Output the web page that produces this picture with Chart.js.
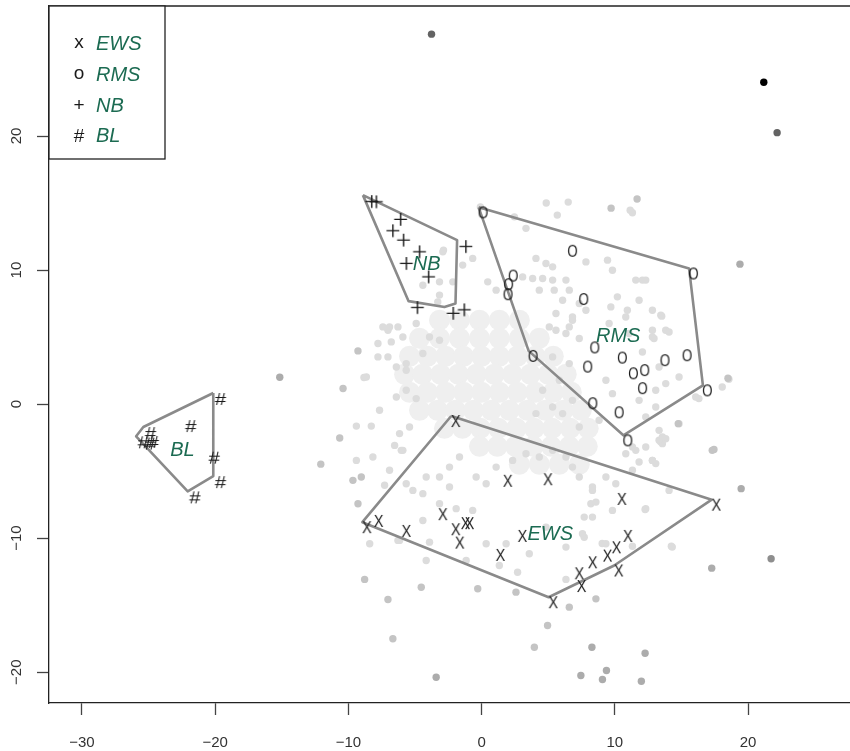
<!DOCTYPE html>
<html>
<head>
<meta charset="utf-8">
<script src="https://cdn.jsdelivr.net/npm/chart.js@4.4.0/dist/chart.umd.min.js"></script>
<style>
	html, body { margin: 0; padding: 0; background: #fff; }
</style>
</head>
<body>
<canvas id="myChart" width="850" height="751"></canvas>
<script>
// groups, in legend order
const groupNames = ['EWS', 'RMS', 'NB', 'BL'];
const legendSymbols = ['x', 'o', '+', '#'];
const plotSymbols = ['X', 'O', '+', '#'];

// samples of each group
const ewsPoints = [[-2.28,-0.89],[-8.95,-8.81],[-8.07,-8.34],[-5.99,-9.09],[-3.25,-7.84],[-2.28,-8.96],[-1.98,-9.96],[-1.55,-8.51],[-1.25,-8.51],[1.62,-5.35],[4.64,-5.23],[1.07,-10.88],[2.72,-9.46],[5.03,-14.41],[6.99,-12.25],[7.16,-13.2],[7.99,-11.43],[9.11,-10.93],[9.78,-10.31],[10.64,-9.46],[9.95,-12.04],[10.19,-6.70],[17.27,-7.13]];
const rmsPoints = [[-0.22,14.68],[6.49,11.81],[2.04,9.96],[1.69,9.32],[1.65,8.57],[7.33,8.21],[3.53,3.97],[8.16,4.60],[10.23,3.84],[7.63,3.17],[11.06,2.67],[11.91,2.91],[13.43,3.65],[15.09,4.02],[11.75,1.56],[16.61,1.40],[15.57,10.12],[8.01,0.44],[9.99,-0.24],[10.64,-2.33]];
const nbPoints = [[-8.91,15.59],[-8.56,15.57],[-6.74,14.26],[-7.32,13.41],[-6.52,12.71],[-5.32,11.84],[-6.31,10.97],[-4.64,9.97],[-1.84,12.23],[-5.48,7.68],[-2.79,7.25],[-1.96,7.51]];
const blPoints = [[-20.14,0.83],[-22.37,-1.19],[-25.39,-1.71],[-25.93,-2.40],[-25.42,-2.50],[-25.18,-2.38],[-20.61,-3.55],[-20.14,-5.37],[-22.06,-6.51]];

// hull outlines
const ewsHull = [[-2.28,-0.89],[17.27,-7.13],[9.95,-12.04],[5.03,-14.41],[-8.95,-8.81],[-2.28,-0.89]];
const rmsHull = [[-0.22,14.68],[15.57,10.12],[16.61,1.40],[10.64,-2.33],[3.53,3.97],[-0.22,14.68]];
const nbHull = [[-8.91,15.59],[-1.84,12.23],[-1.96,7.51],[-2.79,7.25],[-5.48,7.68],[-8.91,15.59]];
const blHull = [[-20.14,0.83],[-25.39,-1.71],[-25.93,-2.40],[-22.06,-6.51],[-20.14,-5.37],[-20.14,0.83]];

// where the group names sit
const labelX = [5.15, 10.25, -4.12, -22.46];
const labelY = [-9.61, 5.18, 10.55, -3.32];

// axis ticks
const xTicks = [-30, -20, -10, 0, 10, 20];
const yTicks = [-20, -10, 0, 10, 20];

// background samples
const cloudCore = [
	[-3.16,6.26],[-1.66,6.26],[-0.16,6.26],[1.33,6.26],[2.83,6.26],
	[-4.66,4.91],[-3.16,4.91],[-1.66,4.91],[-0.16,4.91],[1.33,4.91],[2.83,4.91],[4.33,4.91],
	[-5.41,3.57],[-4.06,3.57],[-2.71,3.57],[-1.36,3.57],[-0.01,3.57],[1.33,3.57],[2.68,3.57],[4.03,3.57],[5.38,3.57],
	[-5.78,2.23],[-4.43,2.23],[-3.08,2.23],[-1.74,2.23],[-0.39,2.23],[0.96,2.23],[2.31,2.23],[3.66,2.23],[5.00,2.23],[6.35,2.23],
	[-5.41,0.88],[-4.06,0.88],[-2.71,0.88],[-1.36,0.88],[-0.01,0.88],[1.33,0.88],[2.68,0.88],[4.03,0.88],[5.38,0.88],[6.73,0.88],
	[-4.66,-0.46],[-3.31,-0.46],[-1.96,-0.46],[-0.61,-0.46],[0.73,-0.46],[2.08,-0.46],[3.43,-0.46],[4.78,-0.46],[6.13,-0.46],[7.48,-0.46],
	[-2.79,-1.81],[-1.44,-1.81],[-0.09,-1.81],[1.26,-1.81],[2.61,-1.81],[3.96,-1.81],[5.30,-1.81],[6.65,-1.81],[8.00,-1.81],
	[-0.16,-3.15],[1.18,-3.15],[2.53,-3.15],[3.88,-3.15],[5.23,-3.15],[6.58,-3.15],[7.93,-3.15],
	[2.83,-4.49],[4.33,-4.49],[5.83,-4.49],[7.33,-4.49]
];
const nearDots = [
	[-8.28,-1.64],[-9.40,-1.64],[-7.66,-0.46],[-8.16,-3.95],[-7.28,-6.06],[-4.16,-11.67],[-8.40,-10.42],[-6.28,-10.17],
	[2.70,-12.54],[1.33,-12.04],[6.33,-13.08],[14.24,-10.60],[12.27,-7.86],[14.07,-6.44],[11.32,-10.60],[9.82,-7.93],
	[7.70,-8.43],[7.70,-9.93],[9.05,-10.40],[8.20,-7.43],[8.58,-7.31],[8.32,-6.44],[13.07,-4.44],[12.82,-4.20],
	[13.82,-2.58],[13.45,-2.83],[11.57,-3.45],[11.82,-4.32],[13.57,-2.95],[13.82,5.51],[13.45,6.63],[12.07,3.89],
	[12.94,4.89],[14.82,2.02],[16.07,0.53],[4.85,15.0],[6.50,15.07],[5.68,14.10],[11.15,14.47],[-0.09,14.70],
	[2.46,13.97],[3.33,13.11],[4.08,10.87],[4.83,10.49],[5.33,10.24],[7.83,10.61],[-2.86,11.49],[-0.67,10.87],
	[-1.42,10.37],[0.46,9.12],[1.09,8.50],[-3.16,9.12],[-3.16,8.13],[3.08,9.49],[3.83,9.37],[4.58,9.37],
	[5.33,9.25],[6.33,9.25],[-7.41,5.76],[-8.65,2.02],[-7.03,5.51],[-6.28,5.76],[-7.78,4.52],[-6.78,4.64],
	[-5.91,5.01],[-7.78,3.52],[-7.03,3.52],[-6.40,2.77],[-5.66,2.52],[-6.40,0.53],[-5.66,1.03],[-4.91,0.41],
	[-6.16,-2.20],[-6.53,-3.08],[-5.91,-3.45],[-5.41,-1.71],[-6.03,-3.45],[-4.16,-5.44],[-5.16,-6.44],[-2.41,-6.19],
	[-3.16,-7.43],[-1.91,-7.80],[-0.67,-7.93],[-4.41,-8.68],[-3.91,-10.30],[-6.16,-10.17],[-1.16,-11.67],[0.34,-10.42],
	[1.84,-10.42],[3.58,-11.17],[4.83,-9.18],[6.33,-10.67],[7.57,-9.67],[8.32,-8.43],[9.33,-10.42],[12.32,-7.80],
	[14.31,-10.67],[-0.41,-5.44],[0.34,-5.94],[1.09,-4.70],[2.33,-4.20],[3.33,-3.70],[4.33,-3.95],[5.33,-3.45],
	[6.33,-3.95],[6.82,-4.70],[7.33,-5.44],[8.32,-6.19],[9.33,-5.44],[10.07,-5.94],[11.32,-4.94],[10.82,-3.70],
	[12.32,-3.20],[13.32,-2.70],[12.82,-4.20],[-3.16,-5.44],[-2.41,-4.70],[-1.66,-3.95],[-4.41,-6.68],[-5.66,-5.94],
	[-6.91,-4.94],[4.33,8.50],[6.08,7.75],[5.58,6.76],[6.82,6.26],[5.08,5.76],[6.33,5.27],[7.33,4.89],
	[9.70,7.25],[10.82,6.50],[9.57,6.01],[11.82,7.75],[12.82,7.00],[11.07,5.27],[12.82,5.51],[13.32,2.77],
	[13.82,1.53],[13.07,1.03],[11.82,0.28],[13.07,-0.22],[12.32,-0.96],[13.32,-1.96],[11.32,-3.20],[9.33,1.78],
	[9.82,0.78],[8.82,-1.21],[7.33,-1.71],[6.08,-0.71],[6.82,0.28],[5.83,1.78],[6.58,3.02],[5.33,3.52],
	[4.58,1.03],[5.33,-0.22],[4.08,-0.71],[18.06,1.28],[18.56,1.85],[11.32,14.27],[13.52,6.56],[14.07,5.38],
	[12.82,5.01],[16.31,0.41],[14.82,-1.46],[13.57,-2.46],[12.07,9.25],[11.57,9.25],[12.32,9.25],[9.82,9.99],
	[9.45,10.74],[10.19,8.00],[10.94,7.00],[-2.91,11.36],[-4.41,8.87],[-3.29,7.62],[-2.16,9.12],[5.45,8.50],
	[6.58,8.50],[7.33,7.50],[7.83,7.00],[6.82,6.50],[6.58,5.76],[5.58,5.51],[-6.91,5.76],[-4.91,6.01],
	[-3.91,5.01],[-4.41,3.77],[-3.16,4.76],[-5.66,3.02],[-9.40,-4.20],[-8.83,1.98]
];
const farDots = [
	[-12.07,-4.48],[-10.65,-2.53],[-10.40,1.16],[-9.28,3.97],[-9.66,-5.69],[-9.03,-5.44],[-8.78,-13.08],[-7.03,-14.58],
	[-6.66,-17.51],[-4.53,-13.66],[-0.29,-13.78],[2.58,-14.03],[4.95,-16.52],[3.96,-18.14],[6.58,-15.15],[8.58,-14.53],
	[17.44,-3.38],[14.76,-1.46],[11.67,15.30],[9.72,14.62],[-9.28,-7.43],[18.49,1.93],[17.31,-3.45]
];
const midDots = [[-15.15,2.00],[-3.41,-20.38],[7.45,-20.25],[9.07,-20.55],[9.37,-19.88],[11.99,-20.68],[12.27,-18.59],[8.28,-18.14],[19.48,-6.31],[19.39,10.44],[17.27,-12.24]];
const darkDots = [[21.73,-11.54]];
const darkerDots = [[-3.76,27.6],[22.18,20.25]];
const blackDots = [[21.18,24.01]];

const green = '#1c6b52';
const fontFamily = '"Liberation Sans", Arial, Helvetica, sans-serif';

// symbol images: the glyph sits a little right of and below its point, as in the original
function makeGlyph(ch) {
	const c = document.createElement('canvas');
	c.width = 48;
	c.height = 48;
	const g = c.getContext('2d');
	g.fillStyle = '#1a1a1a';
	g.strokeStyle = '#1a1a1a';
	g.textAlign = 'center';
	g.textBaseline = 'alphabetic';
	if (ch === '+') {
		g.translate(24 + 8.8, 24 + 6.4);
		g.lineWidth = 1.4;
		g.beginPath();
		g.moveTo(-6.4, 0); g.lineTo(6.4, 0);
		g.moveTo(0, -6.3); g.lineTo(0, 6.3);
		g.stroke();
	} else if (ch === '#') {
		g.translate(24 + 7.2, 24 + 6.0);
		g.scale(1.2, 1);
		g.font = '17px ' + fontFamily;
		g.fillText('#', 0, 6);
	} else if (ch === 'O') {
		g.translate(24 + 4.5, 24 + 5.3);
		g.scale(0.78, 1);
		g.font = '17px ' + fontFamily;
		g.fillText('O', 0, 6.1);
	} else {
		g.translate(24 + 4.5, 24 + 5.5);
		g.scale(0.9, 1);
		g.font = '16px ' + fontFamily;
		g.fillText(ch, 0, 5.8);
	}
	return c;
}

function toXY(arr) {
	return arr.map(p => ({x: p[0], y: p[1]}));
}

function dotSet(data, color, radius, order) {
	return {
		data: toXY(data),
		backgroundColor: color,
		borderWidth: 0,
		pointRadius: radius,
		pointHoverRadius: radius,
		order
	};
}

function hullSet(data) {
	return {
		data: toXY(data),
		showLine: true,
		borderColor: '#8a8a8a',
		borderWidth: 2.6,
		borderJoinStyle: 'round',
		pointRadius: 0,
		pointHoverRadius: 0,
		order: 5
	};
}

function glyphSet(data, ch) {
	return {
		data: toXY(data),
		pointStyle: makeGlyph(ch),
		pointRadius: 6,
		pointHoverRadius: 6,
		order: 1
	};
}

const minus = v => (v < 0 ? '\u2212' + Math.abs(v) : '' + v);

const decor = {
	id: 'decor',
	afterDraw(chart) {
		const {ctx, chartArea: a} = chart;
		const xs = chart.scales.x;
		const ys = chart.scales.y;
		ctx.save();

		// top edge of the frame
		ctx.strokeStyle = '#222';
		ctx.lineWidth = 1.3;
		ctx.beginPath();
		ctx.moveTo(a.left, a.top);
		ctx.lineTo(a.right, a.top);
		ctx.stroke();

		// group names inside the plot
		ctx.font = 'italic 20px ' + fontFamily;
		ctx.fillStyle = green;
		ctx.textAlign = 'center';
		ctx.textBaseline = 'alphabetic';
		groupNames.forEach((name, i) => {
			ctx.fillText(name, xs.getPixelForValue(labelX[i]), ys.getPixelForValue(labelY[i]) + 7.5);
		});

		// legend box
		const lx = a.left, ly = a.top;
		ctx.fillStyle = '#fff';
		ctx.fillRect(lx, ly, 116, 153);
		ctx.strokeStyle = '#222';
		ctx.lineWidth = 1.3;
		ctx.strokeRect(lx, ly, 116, 153);
		groupNames.forEach((name, i) => {
			const cy = ly + 37 + i * 30.7;
			ctx.fillStyle = '#1a1a1a';
			ctx.font = '19px ' + fontFamily;
			ctx.textAlign = 'center';
			ctx.fillText(legendSymbols[i], lx + 30, cy + (legendSymbols[i] === 'x' || legendSymbols[i] === 'o' ? 5 : 6.5));
			ctx.fillStyle = green;
			ctx.font = 'italic 20px ' + fontFamily;
			ctx.textAlign = 'left';
			ctx.fillText(name, lx + 47, cy + 7.3);
		});

		// tick labels
		ctx.fillStyle = '#333';
		ctx.font = '15px ' + fontFamily;
		ctx.textAlign = 'center';
		ctx.textBaseline = 'middle';
		xTicks.forEach(v => {
			ctx.fillText(minus(v), xs.getPixelForValue(v), a.bottom + 39.5);
		});
		yTicks.forEach(v => {
			ctx.save();
			ctx.translate(a.left - 32.5, ys.getPixelForValue(v));
			ctx.rotate(-Math.PI / 2);
			ctx.fillText(minus(v), 0, 0);
			ctx.restore();
		});
		ctx.restore();
	}
};

const axisStyle = {
	grid: {display: true, drawOnChartArea: false, drawTicks: true, tickLength: 12, tickColor: '#444', tickWidth: 1.3},
	border: {display: true, color: '#222', width: 1.3},
	ticks: {display: false, stepSize: 10, includeBounds: false}
};

const ctx = document.getElementById('myChart');
const myChart = new Chart(ctx, {
	type: 'scatter',
	data: {
		datasets: [
			glyphSet(ewsPoints, plotSymbols[0]),
			glyphSet(rmsPoints, plotSymbols[1]),
			glyphSet(nbPoints, plotSymbols[2]),
			glyphSet(blPoints, plotSymbols[3]),
			hullSet(ewsHull),
			hullSet(rmsHull),
			hullSet(nbHull),
			hullSet(blHull),
			dotSet(blackDots, '#000000', 3.7, 10),
			dotSet(darkerDots, '#636363', 3.7, 11),
			dotSet(darkDots, '#8e8e8e', 3.7, 12),
			dotSet(midDots, '#acacac', 3.7, 13),
			dotSet(farDots, '#c4c4c4', 3.7, 14),
			dotSet(nearDots, '#dcdcdc', 3.7, 15),
			dotSet(cloudCore, '#efefef', 10.5, 16)
		]
	},
	options: {
		responsive: false,
		devicePixelRatio: 1,
		animation: false,
		events: [],
		layout: {autoPadding: false, padding: {top: 6, right: 0, bottom: 0, left: 0}},
		plugins: {legend: {display: false}, tooltip: {enabled: false}},
		scales: {
			x: Object.assign({
				type: 'linear', position: 'bottom', min: -32.47, max: 27.65,
				afterFit: s => { s.height = 48; s.paddingLeft = 0; s.paddingRight = 0; }
			}, axisStyle),
			y: Object.assign({
				type: 'linear', position: 'left', min: -22.3, max: 29.7,
				afterFit: s => { s.width = 49; s.paddingTop = 0; s.paddingBottom = 0; }
			}, axisStyle)
		}
	},
	plugins: [decor]
});
</script>
</body>
</html>
